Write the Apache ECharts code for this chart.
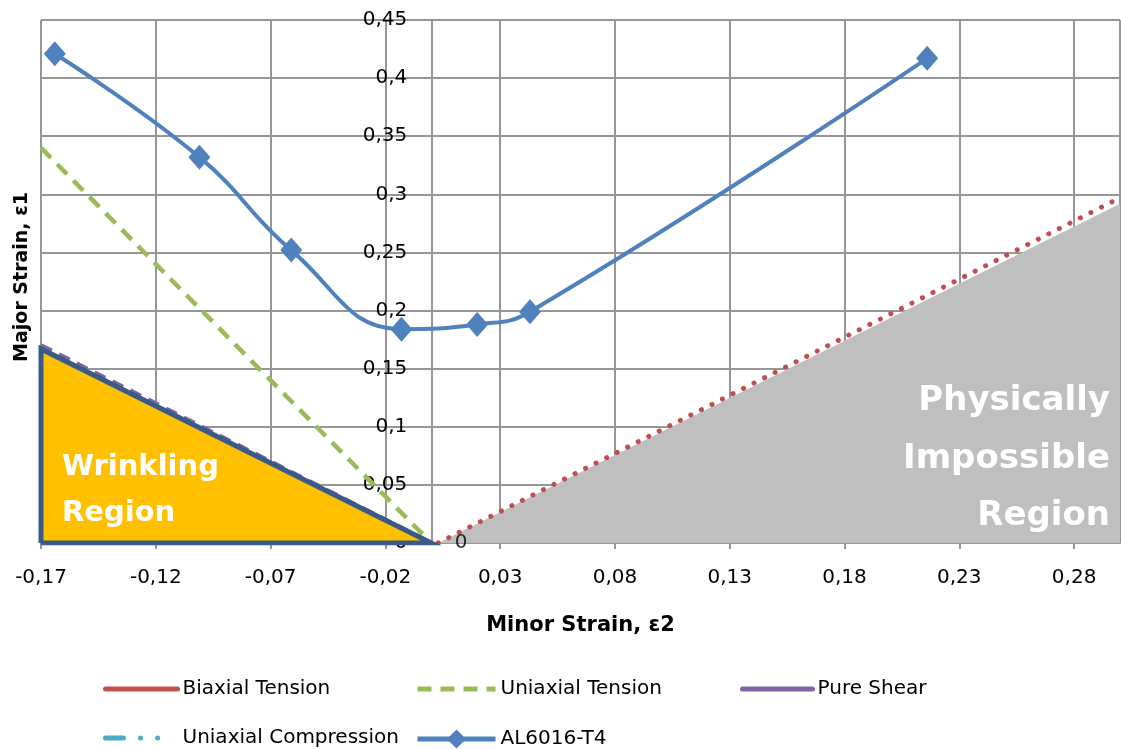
<!DOCTYPE html>
<html>
<head>
<meta charset="utf-8">
<script src="https://cdn.jsdelivr.net/npm/echarts@6/dist/echarts.min.js"></script>
<style>
  html, body { margin: 0; padding: 0; background: #fff; }
  #chart { width: 1121px; height: 749px; }
</style>
</head>
<body>
<div id="chart"></div>
<script>
// strain lines (minor strain e2 -> major strain e1)
var biaxialX = [0.003, 0.30];
var biaxialY = [0, 0.297];
var uniTensionX = [-0.17, 0];
var uniTensionY = [0.34, 0];
var shearX = [-0.17, 0];
var shearY = [0.17, 0];
var uniCompX = [-0.17, 0];
var uniCompY = [0.085, 0];
// shaded regions
var wrinkleX = [-0.17, -0.17, 0, -0.17];
var wrinkleY = [0, 0.167, 0, 0];
var impossibleX = [0.003, 0.30];
var impossibleY = [0, 0.292];
// measured FLC
var alX = [-0.164, -0.101, -0.061, -0.013, 0.020, 0.043, 0.216];
var alY = [0.421, 0.332, 0.252, 0.184, 0.188, 0.199, 0.417];

var font = '"DejaVu Sans", sans-serif';
var xMin = -0.17, xMax = 0.30;
var gridLeft = 41, gridRight = 1;

function pairs(xs, ys) {
  return xs.map(function (x, i) { return [x, ys[i]]; });
}
function fmt(v) {
  return String(parseFloat(v.toFixed(2))).replace('.', ',');
}

var chart = echarts.init(document.getElementById('chart'));
var legendText = { color: '#000', fontSize: 20, fontFamily: font };
// y axis sits at e2 = 0
var plotW = 1121 - gridLeft - gridRight;
var yAxisOffset = -(0 - xMin) / (xMax - xMin) * plotW;

function legendItem(name, left, top, w, h, extra) {
  var item = { name: name, lineStyle: { width: 5 } };
  if (extra) {
    for (var k in extra) item[k] = extra[k];
  }
  return {
    left: left, top: top, padding: 0, itemWidth: w, itemHeight: h,
    textStyle: legendText, data: [item]
  };
}
var noDot = { color: 'rgba(0,0,0,0)', borderWidth: 0 };
var solidIcon = { type: 'solid', width: 5, cap: 'round' };
var regionFont = 'bold 34px ' + font;

var option = {
  animation: false,
  grid: { left: gridLeft, right: gridRight, top: 20, bottom: 206, containLabel: false, outerBoundsMode: 'none' },
  xAxis: {
    type: 'value',
    min: xMin,
    max: xMax,
    interval: 0.05,
    name: 'Minor Strain, ε2',
    nameLocation: 'middle',
    nameGap: 72,
    nameTextStyle: { fontSize: 21, fontWeight: 'bold', color: '#000', fontFamily: font },
    axisLine: { onZero: false, lineStyle: { color: '#969696', width: 2 } },
    axisTick: { show: true, length: 6, lineStyle: { color: '#969696', width: 2 } },
    axisLabel: { margin: 25, fontSize: 20, color: '#000', fontFamily: font, formatter: fmt, showMaxLabel: false },
    splitLine: { show: true, lineStyle: { color: '#969696', width: 2 } }
  },
  yAxis: {
    type: 'value',
    min: 0,
    max: 0.45,
    interval: 0.05,
    position: 'left',
    offset: yAxisOffset,
    axisLine: { show: true, onZero: false, lineStyle: { color: '#969696', width: 2 } },
    axisTick: { show: true, length: 6, lineStyle: { color: '#969696', width: 2 } },
    axisLabel: { margin: 24, fontSize: 20, color: '#000', fontFamily: font, formatter: fmt },
    splitLine: { show: true, lineStyle: { color: '#969696', width: 2 } }
  },
  legend: [
    legendItem('Biaxial Tension', 103, 679, 72, 18, { lineStyle: solidIcon, itemStyle: noDot }),
    legendItem('Uniaxial Tension', 415, 679, 78, 18, { itemStyle: noDot }),
    legendItem('Pure Shear', 740, 679, 70, 18, { lineStyle: solidIcon, itemStyle: noDot }),
    legendItem('Uniaxial Compression', 103, 728, 72, 18, { itemStyle: noDot }),
    legendItem('AL6016-T4', 415, 729, 78, 24)
  ],
  graphic: [
    {
      type: 'text', left: 13, top: 192, rotation: Math.PI / 2,
      style: { text: 'Major Strain, ε1', font: 'bold 19px ' + font, fill: '#000' }
    },
    {
      type: 'text', left: 62, top: 444, z: 100,
      style: { text: 'Wrinkling\nRegion', font: 'bold 29px ' + font, fill: '#fff', lineHeight: 46 }
    },
    { type: 'text', right: 11, top: 384, z: 100, style: { text: 'Physically', font: regionFont, fill: '#fff' } },
    { type: 'text', right: 11, top: 442, z: 100, style: { text: 'Impossible', font: regionFont, fill: '#fff' } },
    { type: 'text', right: 11, top: 499, z: 100, style: { text: 'Region', font: regionFont, fill: '#fff' } }
  ],
  series: [
    {
      name: 'impossible', type: 'line', symbol: 'none', silent: true, z: 1,
      lineStyle: { width: 0 },
      areaStyle: { color: '#BFBFBF', opacity: 1 },
      data: pairs(impossibleX, impossibleY)
    },
    {
      name: 'Biaxial Tension', type: 'line', symbol: 'none', z: 2,
      itemStyle: { color: '#C0504D' },
      lineStyle: { color: '#C0504D', width: 5, type: [0.1, 11.7], cap: 'round' },
      data: pairs(biaxialX, biaxialY)
    },
    {
      name: 'Uniaxial Tension', type: 'line', symbol: 'none', z: 3,
      itemStyle: { color: '#9BBB59' },
      lineStyle: { color: '#9BBB59', width: 4.5, type: [14, 9] },
      data: pairs(uniTensionX, uniTensionY)
    },
    {
      name: 'Pure Shear', type: 'line', symbol: 'none', z: 2,
      itemStyle: { color: '#8064A2' },
      lineStyle: { color: '#8064A2', width: 4.5, type: [12, 8] },
      data: pairs(shearX, shearY)
    },
    {
      name: 'Uniaxial Compression', type: 'line', symbol: 'none', z: 2,
      itemStyle: { color: '#4BACC6' },
      lineStyle: { color: '#4BACC6', width: 4.5, type: [18, 17, 0.1, 17, 0.1, 20], cap: 'round' },
      data: pairs(uniCompX, uniCompY)
    },
    {
      name: 'wrinkle', type: 'line', symbol: 'none', silent: true, z: 4,
      lineStyle: { color: '#3A5A88', width: 5, join: 'miter' },
      areaStyle: { color: '#FFC000', opacity: 1 },
      data: pairs(wrinkleX, wrinkleY)
    },
    {
      name: 'zeroLabel', type: 'scatter', symbolSize: 1, silent: true, z: 5,
      itemStyle: { color: 'rgba(0,0,0,0)' },
      label: { show: true, position: 'inside', formatter: '0', fontSize: 20, color: '#000', fontFamily: font },
      data: [[0.013, 0]]
    },
    {
      name: 'AL6016-T4', type: 'line', smooth: 0.45, z: 6,
      symbol: 'diamond', symbolSize: [22, 25],
      itemStyle: { color: '#4F81BD' },
      lineStyle: { color: '#4F81BD', width: 4 },
      data: pairs(alX, alY)
    }
  ]
};
chart.setOption(option);
</script>
</body>
</html>
